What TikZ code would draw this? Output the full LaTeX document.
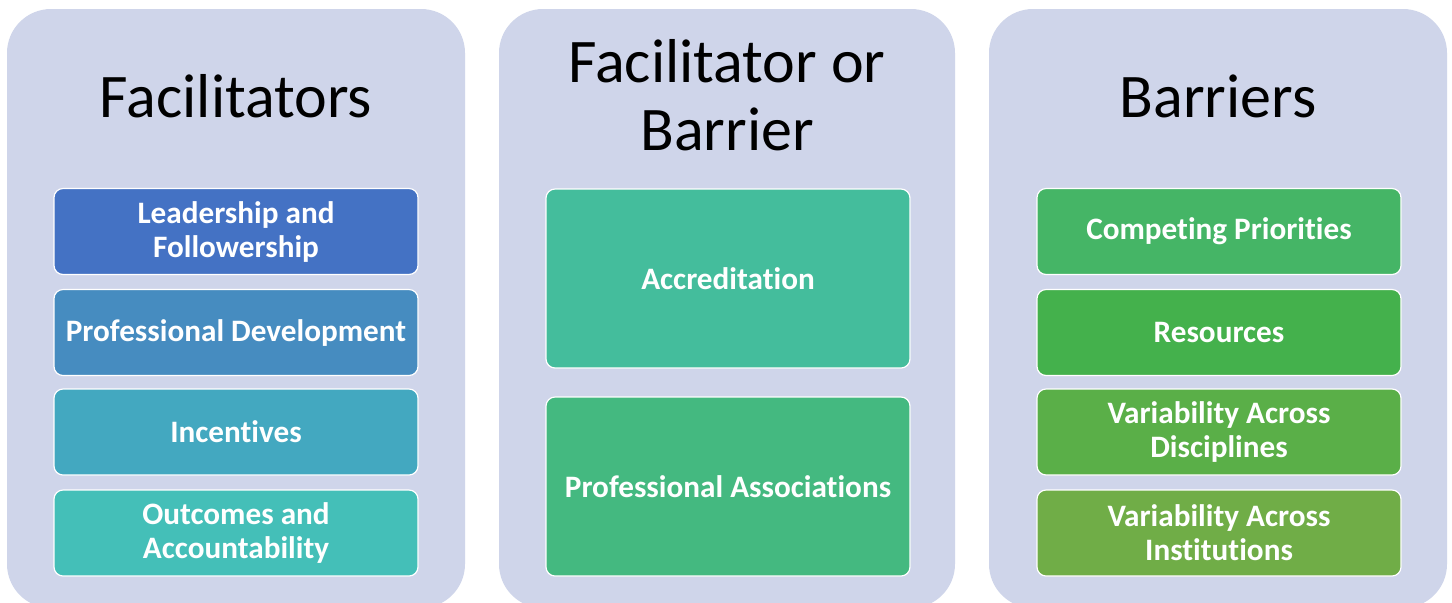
\documentclass[tikz,border=0pt]{standalone}
\usepackage{fontspec}
\setmainfont[Ligatures=NoCommon]{Carlito}
\definecolor{panelbg}{HTML}{CFD5EA}
\definecolor{cA}{HTML}{4472C4}
\definecolor{cB}{HTML}{468CC0}
\definecolor{cC}{HTML}{43A8C0}
\definecolor{cD}{HTML}{44BFB8}
\definecolor{cE}{HTML}{44BD9C}
\definecolor{cF}{HTML}{44B980}
\definecolor{cG}{HTML}{45B566}
\definecolor{cH}{HTML}{44B14C}
\definecolor{cI}{HTML}{5AAF48}
\definecolor{cJ}{HTML}{70AD47}
\tikzset{
  panel/.style={fill=panelbg, draw=none, rounded corners=22pt},
  paneltitle/.style={font=\fontsize{31}{34}\selectfont, text=black, align=center, inner sep=0pt},
  itembox/.style={draw=white, line width=0.6pt, rounded corners=4.5pt, text=white,
    font=\bfseries\fontsize{15.6}{17}\selectfont, align=center,
    minimum width=182pt, minimum height=43pt, inner sep=0pt},
  tallbox/.style={itembox, minimum height=89.5pt}
}
\begin{document}
\begin{tikzpicture}[x=0.5pt,y=-0.5pt]
\useasboundingbox (0,0) rectangle (1452,602);
\clip (0,0) rectangle (1452,602);
\fill[white] (0,0) rectangle (1452,602);
% panels
\path[panel] (7,9) rectangle (465,608);
\path[panel] (499,9) rectangle (955,608);
\path[panel] (989,9) rectangle (1447,608);
% titles
\node[paneltitle, anchor=base] (t1) at (236,117) {Facilitators};
\node[paneltitle] (t2) at (727,95) {Facilitator or\\Barrier};
\node[paneltitle, anchor=base] (t3) at (1218,117) {Barriers};
% left column
\node[itembox, fill=cA] (f1) at (236,231.5) {Leadership and\\Followership};
\node[itembox, fill=cB] (f2) at (236,332.5) {Professional Development};
\node[itembox, fill=cC] (f3) at (236,432) {Incentives};
\node[itembox, fill=cD] (f4) at (236,533) {Outcomes and\\Accountability};
% middle column
\node[tallbox, fill=cE] (m1) at (728,278.5) {Accreditation};
\node[tallbox, fill=cF] (m2) at (728,486.5) {Professional Associations};
% right column
\node[itembox, fill=cG] (b1) at (1219,231.5) {Competing Priorities};
\node[itembox, fill=cH] (b2) at (1219,332.5) {Resources};
\node[itembox, fill=cI] (b3) at (1219,432) {Variability Across\\Disciplines};
\node[itembox, fill=cJ] (b4) at (1219,533) {Variability Across\\Institutions};
\end{tikzpicture}
\end{document}
